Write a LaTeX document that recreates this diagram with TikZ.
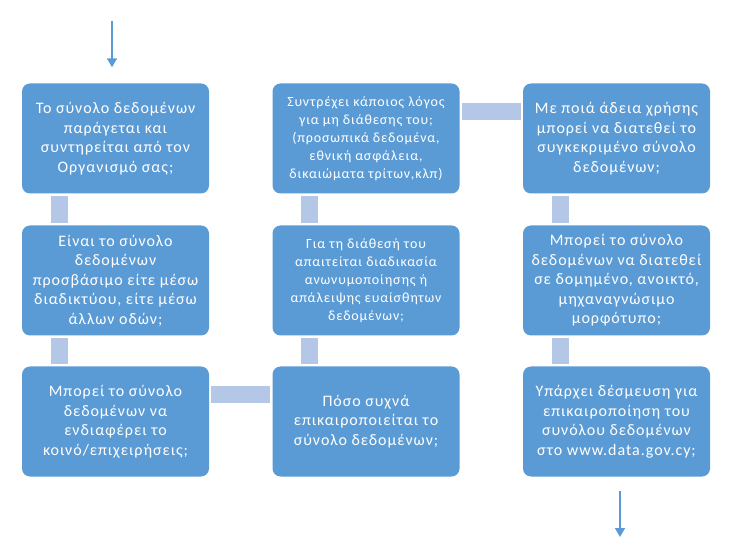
\documentclass[tikz,border=0pt]{standalone}
\usepackage{fontspec}
\setmainfont{Carlito}[LetterSpace=6]
\usetikzlibrary{arrows.meta}
\pgfdeclarelayer{bg}
\pgfsetlayers{bg,main}

\definecolor{boxblue}{HTML}{5B9BD5}
\definecolor{linkblue}{HTML}{B4C7E7}

\tikzset{
  box/.style={rectangle, rounded corners=8pt, fill=boxblue, draw=none,
    minimum width=187pt, minimum height=110pt, inner sep=2pt,
    text=white, align=center, font=\fontsize{16}{19.5}\selectfont},
  small/.style={font=\fontsize{14}{18}\selectfont},
  link/.style={draw=linkblue, line width=17pt, shorten <=2pt, shorten >=2pt},
  flow/.style={draw=boxblue, line width=1.5pt, -{Triangle[width=10pt,length=9pt]}}
}

\begin{document}
\begin{tikzpicture}
        \useasboundingbox (0pt, 0pt) rectangle (735pt, 551pt);

        \node (b1) [box] at (115.5pt, 412.5pt) {Το σύνολο δεδομένων\\παράγεται και\\συντηρείται από τον\\Οργανισμό σας;};
        \node (b2) [box] at (115.5pt, 270.5pt) {Είναι το σύνολο\\δεδομένων\\προσβάσιμο είτε μέσω\\διαδικτύου, είτε μέσω\\άλλων οδών;};
        \node (b3) [box] at (115.5pt, 129.5pt) {Μπορεί το σύνολο\\δεδομένων να\\ενδιαφέρει το\\κοινό/επιχειρήσεις;};
        \node (b4) [box, small] at (366pt, 412.5pt) {Συντρέχει κάποιος λόγος\\για μη διάθεσης του;\\(προσωπικά δεδομένα,\\εθνική ασφάλεια,\\δικαιώματα τρίτων,κλπ)};
        \node (b5) [box, small] at (366pt, 270.5pt) {Για τη διάθεσή του\\απαιτείται διαδικασία\\ανωνυμοποίησης ή\\απάλειψης ευαίσθητων\\δεδομένων;};
        \node (b6) [box] at (366pt, 129.5pt) {Πόσο συχνά\\επικαιροποιείται το\\σύνολο δεδομένων;};
        \node (b7) [box] at (616.5pt, 412.5pt) {Με ποιά άδεια χρήσης\\μπορεί να διατεθεί το\\συγκεκριμένο σύνολο\\δεδομένων;};
        \node (b8) [box] at (616.5pt, 270.5pt) {Μπορεί το σύνολο\\δεδομένων να διατεθεί\\σε δομημένο, ανοικτό,\\μηχαναγνώσιμο\\μορφότυπο;};
        \node (b9) [box] at (616.5pt, 129.5pt) {Υπάρχει δέσμευση για\\επικαιροποίηση του\\συνόλου δεδομένων\\στο www.data.gov.cy;};

        \coordinate (in) at (112pt, 530pt);
        \coordinate (out) at (620pt, 14pt);

        \begin{pgfonlayer}{bg}
                \draw [link] ([xshift=37.5pt]b1.south west) -- ([xshift=37.5pt]b2.north west);
                \draw [link] ([xshift=37.5pt]b2.south west) -- ([xshift=37.5pt]b3.north west);
                \draw [link] ([yshift=-28pt]b3.north east) -- ([yshift=-28pt]b6.north west);
                \draw [link] ([xshift=37.5pt]b6.north west) -- ([xshift=37.5pt]b5.south west);
                \draw [link] ([xshift=37.5pt]b5.north west) -- ([xshift=37.5pt]b4.south west);
                \draw [link] ([yshift=-28pt]b4.north east) -- ([yshift=-28pt]b7.north west);
                \draw [link] ([xshift=37.5pt]b7.south west) -- ([xshift=37.5pt]b8.north west);
                \draw [link] ([xshift=37.5pt]b8.south west) -- ([xshift=37.5pt]b9.north west);
        \end{pgfonlayer}

        \draw [flow] (in) -- ([xshift=-3.5pt, yshift=16pt]b1.north);
        \draw [flow] ([xshift=3.5pt, yshift=-14pt]b9.south) -- (out);
\end{tikzpicture}
\end{document}
